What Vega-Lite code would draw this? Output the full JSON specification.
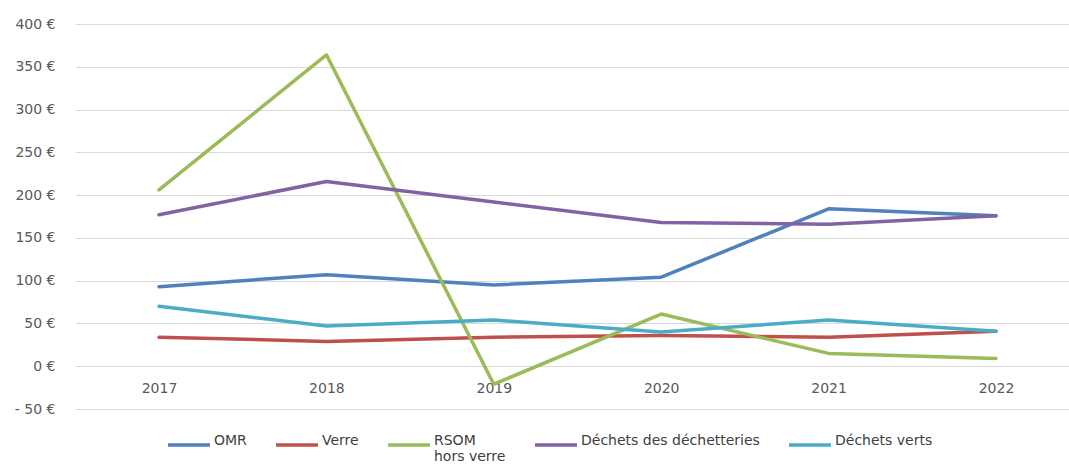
{
  "$schema": "https://vega.github.io/schema/vega-lite/v6.json",
  "width": 994,
  "height": 385,
  "autosize": "none",
  "padding": {"left": 75, "top": 24, "right": 0, "bottom": 59},
  "background": "white",
  "config": {
    "view": {"stroke": null},
    "font": "DejaVu Sans"
  },
  "data": {
    "values": [
      {"annee": "2017", "serie": "OMR", "valeur": 93},
      {"annee": "2018", "serie": "OMR", "valeur": 107},
      {"annee": "2019", "serie": "OMR", "valeur": 95},
      {"annee": "2020", "serie": "OMR", "valeur": 104},
      {"annee": "2021", "serie": "OMR", "valeur": 184},
      {"annee": "2022", "serie": "OMR", "valeur": 176},
      {"annee": "2017", "serie": "Verre", "valeur": 34},
      {"annee": "2018", "serie": "Verre", "valeur": 29},
      {"annee": "2019", "serie": "Verre", "valeur": 34},
      {"annee": "2020", "serie": "Verre", "valeur": 36},
      {"annee": "2021", "serie": "Verre", "valeur": 34},
      {"annee": "2022", "serie": "Verre", "valeur": 41},
      {"annee": "2017", "serie": "RSOM hors verre", "valeur": 206},
      {"annee": "2018", "serie": "RSOM hors verre", "valeur": 364},
      {"annee": "2019", "serie": "RSOM hors verre", "valeur": -21},
      {"annee": "2020", "serie": "RSOM hors verre", "valeur": 61},
      {"annee": "2021", "serie": "RSOM hors verre", "valeur": 15},
      {"annee": "2022", "serie": "RSOM hors verre", "valeur": 9},
      {"annee": "2017", "serie": "Déchets des déchetteries", "valeur": 177},
      {"annee": "2018", "serie": "Déchets des déchetteries", "valeur": 216},
      {"annee": "2019", "serie": "Déchets des déchetteries", "valeur": 192},
      {"annee": "2020", "serie": "Déchets des déchetteries", "valeur": 168},
      {"annee": "2021", "serie": "Déchets des déchetteries", "valeur": 166},
      {"annee": "2022", "serie": "Déchets des déchetteries", "valeur": 176},
      {"annee": "2017", "serie": "Déchets verts", "valeur": 70},
      {"annee": "2018", "serie": "Déchets verts", "valeur": 47},
      {"annee": "2019", "serie": "Déchets verts", "valeur": 54},
      {"annee": "2020", "serie": "Déchets verts", "valeur": 40},
      {"annee": "2021", "serie": "Déchets verts", "valeur": 54},
      {"annee": "2022", "serie": "Déchets verts", "valeur": 41}
    ]
  },
  "mark": {"type": "line", "strokeWidth": 3.5, "strokeCap": "round", "strokeJoin": "round"},
  "encoding": {
    "x": {
      "field": "annee",
      "type": "ordinal",
      "scale": {"type": "point", "padding": 0.469, "align": 0.535},
      "axis": {
        "title": null,
        "offset": -43,
        "domain": false,
        "ticks": false,
        "labelAngle": 0,
        "labelPadding": 15,
        "labelFont": "DejaVu Sans",
        "labelFontSize": 14,
        "labelColor": "#595959"
      }
    },
    "y": {
      "field": "valeur",
      "type": "quantitative",
      "scale": {"domain": [-50, 400], "nice": false, "zero": false},
      "axis": {
        "title": null,
        "values": [-50, 0, 50, 100, 150, 200, 250, 300, 350, 400],
        "labelExpr": "datum.value < 0 ? '- ' + abs(datum.value) + ' €' : datum.value + ' €'",
        "domain": false,
        "ticks": false,
        "labelPadding": 20,
        "labelFont": "DejaVu Sans",
        "labelFontSize": 14,
        "labelColor": "#595959",
        "gridColor": "#d9d9d9",
        "gridWidth": 1
      }
    },
    "color": {
      "field": "serie",
      "type": "nominal",
      "scale": {
        "domain": ["OMR", "Verre", "RSOM hors verre", "Déchets des déchetteries", "Déchets verts"],
        "range": ["#4f81bd", "#c0504d", "#9bbb59", "#8064a2", "#4bacc6"]
      },
      "legend": {
        "orient": "none",
        "legendX": 91,
        "legendY": 398,
        "direction": "horizontal",
        "columns": 5,
        "gridAlign": "each",
        "title": null,
        "padding": 0,
        "symbolType": "stroke",
        "symbolSize": 1764,
        "symbolStrokeWidth": 3.5,
        "labelFont": "DejaVu Sans",
        "labelFontSize": 14,
        "labelColor": "#404040",
        "labelOffset": 2,
        "columnPadding": 22,
        "labelLimit": 300,
        "labelBaseline": "alphabetic",
        "labelExpr": "datum.label == 'RSOM hors verre' ? ['RSOM', 'hors verre'] : [datum.label, ' ']"
      }
    }
  }
}
